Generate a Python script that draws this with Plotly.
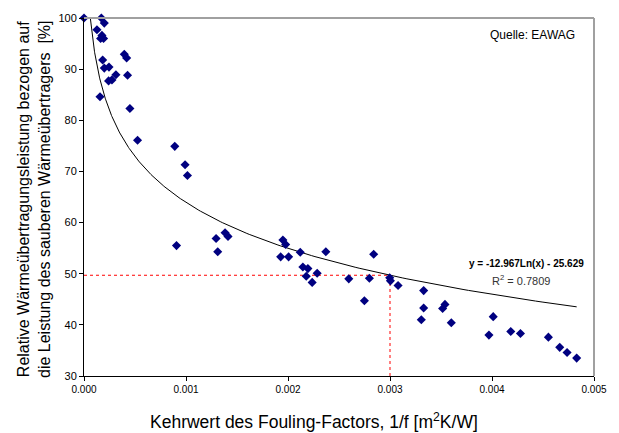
import numpy as np
import plotly.graph_objects as go

# Data
fouling_x = [0.0, 0.000170, 0.000199, 0.000127, 0.000176, 0.000163, 0.000192, 0.000183,
             0.000199, 0.000245, 0.000395, 0.000418, 0.000313, 0.000427, 0.000241, 0.000274,
             0.000157, 0.000450, 0.000525, 0.000890, 0.000991, 0.001014, 0.000907, 0.001295,
             0.001311, 0.001383, 0.001412, 0.001950, 0.001977, 0.001928, 0.002006, 0.002120,
             0.002146, 0.002195, 0.002179, 0.002237, 0.002286, 0.002371, 0.002596, 0.002749,
             0.002798, 0.002840, 0.002997, 0.003004, 0.003079, 0.003330, 0.003330, 0.003307,
             0.003516, 0.003539, 0.003601, 0.004012, 0.003970, 0.004184, 0.004279, 0.004553,
             0.004664, 0.004736, 0.004830]
leistung_y = [100.0, 100.0, 99.0, 97.7, 96.6, 96.0, 96.0, 91.8,
              90.2, 90.4, 92.9, 92.2, 88.9, 88.8, 87.7, 87.9,
              84.6, 82.3, 76.1, 74.9, 71.3, 69.2, 55.5, 56.9,
              54.3, 58.0, 57.3, 56.6, 55.7, 53.3, 53.3, 54.2,
              51.3, 51.0, 49.5, 48.3, 50.1, 54.3, 49.0, 44.7,
              49.1, 53.8, 49.2, 48.6, 47.7, 46.7, 43.3, 41.0,
              43.2, 44.0, 40.4, 41.6, 38.0, 38.7, 38.3, 37.6,
              35.6, 34.6, 33.5]

# Logarithmic trendline from the displayed equation
trend_a = -12.967
trend_b = -25.629
trend_x_start = 6.2e-5
trend_x_end = 0.00483
ref_x = 0.003

x_ticks = [0.000, 0.001, 0.002, 0.003, 0.004, 0.005]
y_ticks = [30, 40, 50, 60, 70, 80, 90, 100]

tx = np.geomspace(trend_x_start, trend_x_end, 300)
ty = trend_a * np.log(tx) + trend_b
ref_y = trend_a * np.log(ref_x) + trend_b

fig = go.Figure()
fig.add_trace(go.Scatter(x=[0, ref_x], y=[ref_y, ref_y], mode="lines",
                         line=dict(color="#ff0000", width=1, dash="dot"), hoverinfo="skip"))
fig.add_trace(go.Scatter(x=[ref_x, ref_x], y=[30, ref_y], mode="lines",
                         line=dict(color="#ff0000", width=1, dash="dot"), hoverinfo="skip"))
fig.add_trace(go.Scatter(x=tx, y=ty, mode="lines", line=dict(color="black", width=1)))
fig.add_trace(go.Scatter(x=fouling_x, y=leistung_y, mode="markers", cliponaxis=False,
                         marker=dict(symbol="diamond", size=7, color="#000080")))

font = "Liberation Sans, Arial, sans-serif"
fig.update_layout(
    width=619, height=433,
    margin=dict(l=84, r=24, t=13, b=57),
    paper_bgcolor="white", plot_bgcolor="white",
    showlegend=False,
    font=dict(family=font, color="black"),
    xaxis=dict(range=[0, 0.005], tickvals=x_ticks, tickformat=".3f",
               showgrid=False, zeroline=False, showline=True, linecolor="black", linewidth=1,
               ticks="outside", ticklen=4, tickcolor="black", tickfont=dict(size=10, family=font)),
    yaxis=dict(range=[30, 100], tickvals=y_ticks, showgrid=False, zeroline=False,
               showline=True, linecolor="black", linewidth=1,
               ticks="outside", ticklen=4, tickcolor="black", tickfont=dict(size=11, family=font)),
    shapes=[
        dict(type="line", xref="paper", yref="paper", x0=0, x1=1, y0=1, y1=1,
             line=dict(color="#a0a0a0", width=2)),
        dict(type="line", xref="paper", yref="paper", x0=1, x1=1, y0=0, y1=1,
             line=dict(color="#a0a0a0", width=2)),
    ],
    annotations=[
        dict(text="Relative Wärmeübertragungsleistung bezogen auf<br>die Leistung des sauberen Wärmeübertragers  [%]",
             xref="paper", yref="paper", x=-0.099, y=0.493, xanchor="center", yanchor="middle",
             textangle=-90, showarrow=False, font=dict(size=16, family=font)),
        dict(text="Kehrwert des Fouling-Factors, 1/f [m<sup>2</sup>K/W]",
             xref="paper", yref="paper", x=0.45, y=-0.127, xanchor="center", yanchor="middle",
             showarrow=False, font=dict(size=17.5, family=font)),
        dict(text="Quelle: EAWAG", xref="paper", yref="paper", x=0.967, y=0.953,
             xanchor="right", yanchor="middle", showarrow=False, font=dict(size=12, family=font)),
        dict(text="<b>y = -12.967Ln(x) - 25.629</b>", x=0.00434, y=52.0, xanchor="center",
             yanchor="middle", showarrow=False, font=dict(size=10, family=font)),
        dict(text="R<sup>2</sup> = 0.7809", x=0.004286, y=48.7, xanchor="center",
             yanchor="middle", showarrow=False, font=dict(size=11, family=font, color="#333333")),
    ],
)
fig.write_html("out.html")
